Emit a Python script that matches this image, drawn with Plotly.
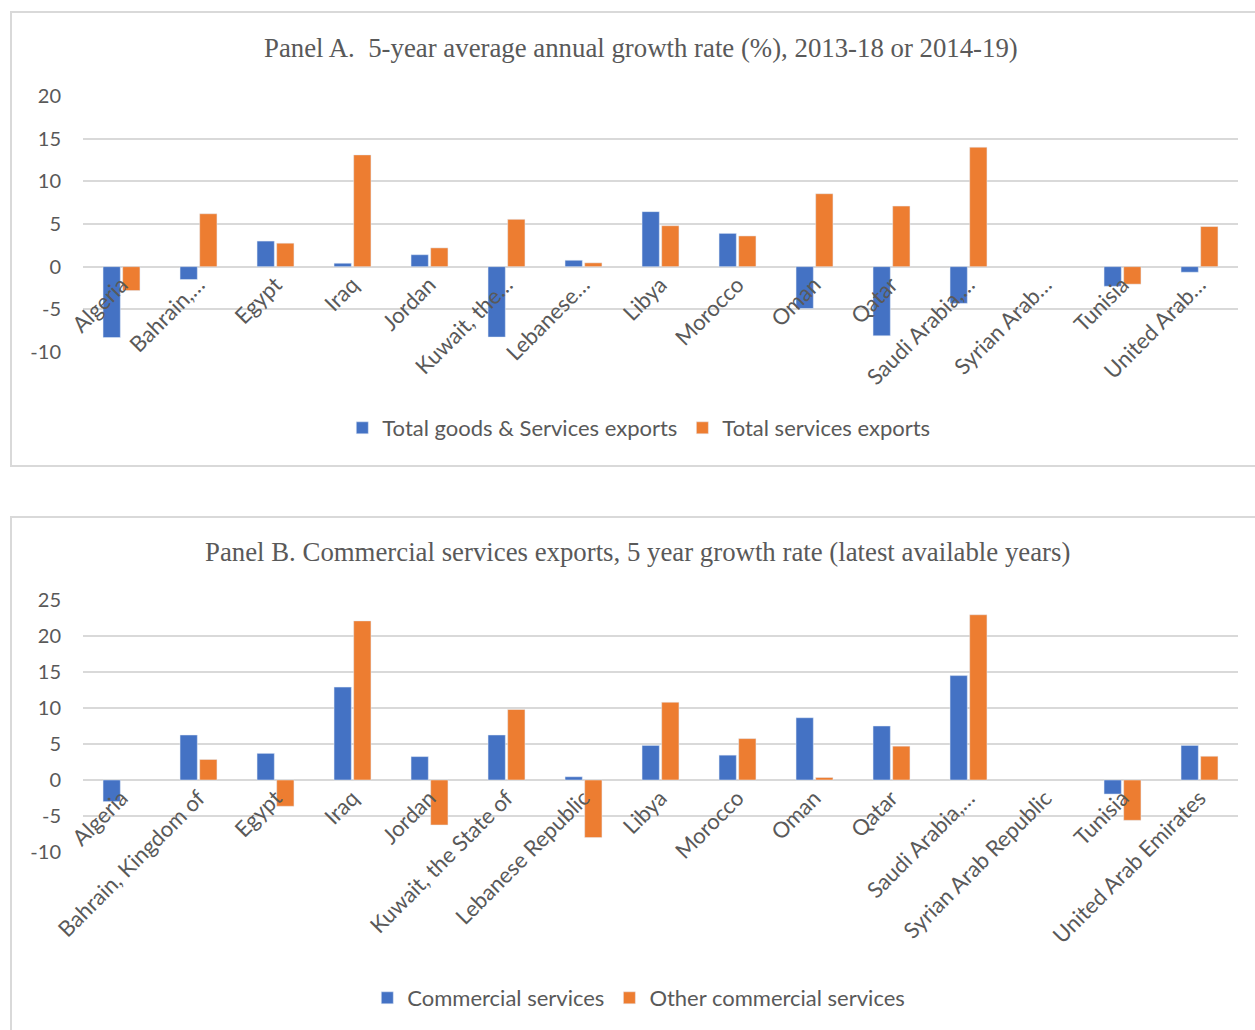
import plotly.graph_objects as go

countries = ["Algeria", "Bahrain, Kingdom of", "Egypt", "Iraq", "Jordan",
             "Kuwait, the State of", "Lebanese Republic", "Libya", "Morocco", "Oman",
             "Qatar", "Saudi Arabia, Kingdom of", "Syrian Arab Republic", "Tunisia",
             "United Arab Emirates"]

ticklabels_a = ["Algeria", "Bahrain,…", "Egypt", "Iraq", "Jordan", "Kuwait, the…",
                "Lebanese…", "Libya", "Morocco", "Oman", "Qatar", "Saudi Arabia,…",
                "Syrian Arab…", "Tunisia", "United Arab…"]
ticklabels_b = ["Algeria", "Bahrain, Kingdom of", "Egypt", "Iraq", "Jordan",
                "Kuwait, the State of", "Lebanese Republic", "Libya", "Morocco", "Oman",
                "Qatar", "Saudi Arabia,…", "Syrian Arab Republic", "Tunisia",
                "United Arab Emirates"]

# Panel A
total_goods_services = [-8.3, -1.5, 3.0, 0.4, 1.4, -8.25, 0.75, 6.45, 3.9, -4.9,
                        -8.1, -4.3, None, -2.3, -0.65]
total_services = [-2.8, 6.2, 2.75, 13.1, 2.2, 5.55, 0.45, 4.8, 3.6, 8.55,
                  7.1, 14.0, None, -2.05, 4.7]

# Panel B
commercial_services = [-3.0, 6.25, 3.7, 12.9, 3.25, 6.25, 0.45, 4.8, 3.45, 8.65,
                       7.5, 14.5, None, -1.95, 4.8]
other_commercial = [None, 2.85, -3.65, 22.1, -6.25, 9.8, -8.0, 10.8, 5.75, 0.35,
                    4.7, 22.95, None, -5.6, 3.3]

# y tick values / labels
yticks_a = [-10, -5, 0, 5, 10, 15, 20]
yticks_b = [-10, -5, 0, 5, 10, 15, 20, 25]
yticktext_a = ["-10", "-5", "0", "5", "10", "15", "20"]
yticktext_b = ["-10", "-5", "0", "5", "10", "15", "20", "25"]

BLUE = "#4472C4"
ORANGE = "#ED7D31"
GRID = "#d9d9d9"
TXT = "#595959"
SANS = "Lato, Calibri, Carlito, sans-serif"
SERIF = "Liberation Serif, Times New Roman, serif"

W, H = 1255, 1030

def py(pix):
    return 1 - pix / H

def px(pix):
    return pix / W

xdom = [px(83), px(1238)]
ydomA = [py(352), py(96)]
ydomB = [py(852), py(600)]
rangeA = [-10, 20]
rangeB = [-10, 25]

def zero_pos(dom, rng):
    return dom[0] + (0 - rng[0]) / (rng[1] - rng[0]) * (dom[1] - dom[0])

fig = go.Figure()
fig.add_trace(go.Bar(x=countries, y=total_goods_services, name="Total goods & Services exports",
                     marker_color=BLUE, xaxis="x", yaxis="y", legend="legend"))
fig.add_trace(go.Bar(x=countries, y=total_services, name="Total services exports",
                     marker_color=ORANGE, xaxis="x", yaxis="y", legend="legend"))
fig.add_trace(go.Bar(x=countries, y=commercial_services, name="Commercial services",
                     marker_color=BLUE, xaxis="x2", yaxis="y2", legend="legend2"))
fig.add_trace(go.Bar(x=countries, y=other_commercial, name="Other commercial services",
                     marker_color=ORANGE, xaxis="x2", yaxis="y2", legend="legend2"))

xcommon = dict(domain=xdom, anchor="free", showgrid=False, showline=False, zeroline=False,
               ticks="", tickangle=-45, tickfont=dict(family=SANS, size=22, color=TXT),
               tickmode="array", tickvals=countries, fixedrange=True, automargin=False)
ycommon = dict(showgrid=True, gridcolor=GRID, gridwidth=1.5, zeroline=True,
               zerolinecolor=GRID, zerolinewidth=1.5, showline=False, ticks="",
               tickfont=dict(family=SANS, size=20, color=TXT), ticklabelstandoff=21,
               tickmode="array", automargin=False)

fig.update_layout(
    width=W, height=H, margin=dict(l=0, r=0, t=0, b=0, autoexpand=False),
    paper_bgcolor="white", plot_bgcolor="white",
    barmode="group", bargap=0.49, bargroupgap=0.12,
    xaxis=dict(**xcommon, ticktext=ticklabels_a, position=zero_pos(ydomA, rangeA)),
    yaxis=dict(**ycommon, domain=ydomA, range=rangeA, anchor="x",
               tickvals=yticks_a, ticktext=yticktext_a),
    xaxis2=dict(**xcommon, ticktext=ticklabels_b, position=zero_pos(ydomB, rangeB)),
    yaxis2=dict(**ycommon, domain=ydomB, range=rangeB, anchor="x2",
                tickvals=yticks_b, ticktext=yticktext_b),
    legend=dict(orientation="h", x=0.509, xanchor="center", y=py(428), yanchor="middle",
                font=dict(family=SANS, size=22, color=TXT), itemclick=False,
                bgcolor="rgba(0,0,0,0)", traceorder="normal", itemwidth=30),
    legend2=dict(orientation="h", x=0.509, xanchor="center", y=py(998), yanchor="middle",
                 font=dict(family=SANS, size=22, color=TXT), itemclick=False,
                 bgcolor="rgba(0,0,0,0)", traceorder="normal", itemwidth=30),
    shapes=[
        dict(type="rect", xref="paper", yref="paper", x0=px(11), x1=1.01, y0=py(466), y1=py(12),
             line=dict(color=GRID, width=2), fillcolor="rgba(0,0,0,0)", layer="below"),
        dict(type="rect", xref="paper", yref="paper", x0=px(11), x1=1.01, y0=py(1040), y1=py(517),
             line=dict(color=GRID, width=2), fillcolor="rgba(0,0,0,0)", layer="below"),
    ],
    annotations=[
        dict(text="Panel A.  5-year average annual growth rate (%), 2013-18 or 2014-19)",
             xref="paper", yref="paper", x=px(641), y=py(48), xanchor="center", yanchor="middle",
             showarrow=False, font=dict(family=SERIF, size=26.8, color=TXT)),
        dict(text="Panel B. Commercial services exports, 5 year growth rate (latest available years)",
             xref="paper", yref="paper", x=px(637), y=py(552), xanchor="center", yanchor="middle",
             showarrow=False, font=dict(family=SERIF, size=26.8, color=TXT)),
    ],
)

fig.write_html("out.html")
